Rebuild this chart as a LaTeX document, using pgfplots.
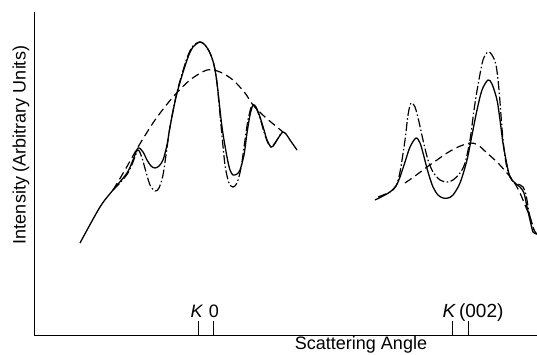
\documentclass[border=0pt]{standalone}
\usepackage{fontspec}
\setmainfont{Liberation Sans}
\usepackage{pgfplots}
\pgfplotsset{compat=1.18}
\begin{document}
\begin{tikzpicture}
\begin{axis}[
  x=1pt, y=1pt,
  xmin=34, xmax=537, ymin=19, ymax=342,
  axis x line=bottom, axis y line=left,
  axis line style={-, line width=1pt},
  xtick={198,213,452,468}, xticklabels={},
  ytick=\empty,
  tick align=inside, major tick length=14pt,
  every tick/.style={black, line width=1pt},
  clip=false,
]
% solid
\addplot[black, line width=1.3pt, smooth, tension=0.5] coordinates {
(80,111)(100,147)(113,164)(127,181)(133,194)(138,206)(143,202)(147,194)(151,188)(155,186)(159,188)(163,194)(167,209)(170,227)(177,261)(187,294)(193,307)(200,312)(205,309)(210,301)(214,289)(217,271)(222,227)(227,197)(230,184)(233,179)(237,180)(240,184)(244,199)(247,221)(250,239)(253,249)(256,247)(260,237)(264,224)(267,214)(271,207)(274,209)(277,214)(281,220)(283,222)(286,220)(290,214)(297,204)};
\addplot[black, line width=1.3pt, smooth, tension=0.5] coordinates {
(375,154)(383,158)(390,162)(396,168)(400,177)(405,192)(410,207)(416,216)(420,211)(423,201)(428,182)(433,167)(438,159)(443,156)(448,156)(453,159)(460,171)(467,194)(472,219)(477,244)(482,264)(488,274)(492,270)(497,254)(500,234)(503,211)(507,189)(510,177)(515,171)(520,167)(524,161)(527,147)(530,134)(533,122)(537,120)};
% dash-dot
\addplot[black, line width=1.2pt, smooth, tension=0.5, dash pattern=on 9pt off 2.5pt on 1.5pt off 2.5pt] coordinates {
(113,164)(120,171)(128,181)(133,192)(138,204)(142,196)(146,182)(150,169)(155,163)(159,166)(163,179)(166,199)(170,227)(177,262)(187,296)(193,308)(200,312)(205,309)(210,301)(214,289)(217,271)(221,229)(225,189)(229,171)(233,167)(237,171)(241,186)(245,214)(248,234)(252,249)(256,246)(260,236)(264,222)(268,211)(271,207)(275,211)(280,219)(283,222)};
\addplot[black, line width=1.2pt, smooth, tension=0.5, dash pattern=on 9pt off 2.5pt on 1.5pt off 2.5pt] coordinates {
(378,157)(390,162)(396,168)(400,182)(405,214)(408,239)(411,251)(415,247)(419,232)(423,214)(428,194)(433,182)(440,174)(447,172)(453,174)(460,181)(465,191)(470,214)(474,244)(478,269)(483,294)(488,302)(492,299)(496,289)(499,264)(503,214)(507,186)(513,172)(518,170)(523,167)(526,159)(530,137)(534,124)(537,120)};
% dashed
\addplot[black, line width=1.2pt, smooth, tension=0.5, dash pattern=on 8pt off 4.5pt] coordinates {
(113,164)(125,184)(138,207)(155,234)(173,257)(190,274)(207,284)(220,282)(233,274)(245,261)(253,249)(265,237)(283,222)};
\addplot[black, line width=1.2pt, smooth, tension=0.5, dash pattern=on 8pt off 4.5pt] coordinates {
(405,171)(415,178)(427,187)(437,194)(447,201)(458,207)(470,211)(478,209)(487,201)(497,192)(507,181)(514,172)(520,161)(525,149)(530,137)(534,124)};
% labels
\node[font=\fontsize{18}{20}\selectfont, anchor=base] at (axis cs:197,37) {\textit{K}};
\node[font=\fontsize{18}{20}\selectfont, anchor=base] at (axis cs:214,37) {0};
\node[font=\fontsize{19}{21}\selectfont, anchor=base] at (axis cs:473,37) {\textit{K}\,(002)};
\node[font=\fontsize{18}{20}\selectfont, anchor=center] at (axis cs:361,9) {Scattering Angle};
\node[font=\fontsize{18}{20}\selectfont, anchor=center, rotate=90] at (axis cs:21,209) {Intensity (Arbitrary Units)};
\end{axis}
\pgfresetboundingbox
\path (-34pt,-19pt) rectangle (503pt,335pt);
\end{tikzpicture}
\end{document}
